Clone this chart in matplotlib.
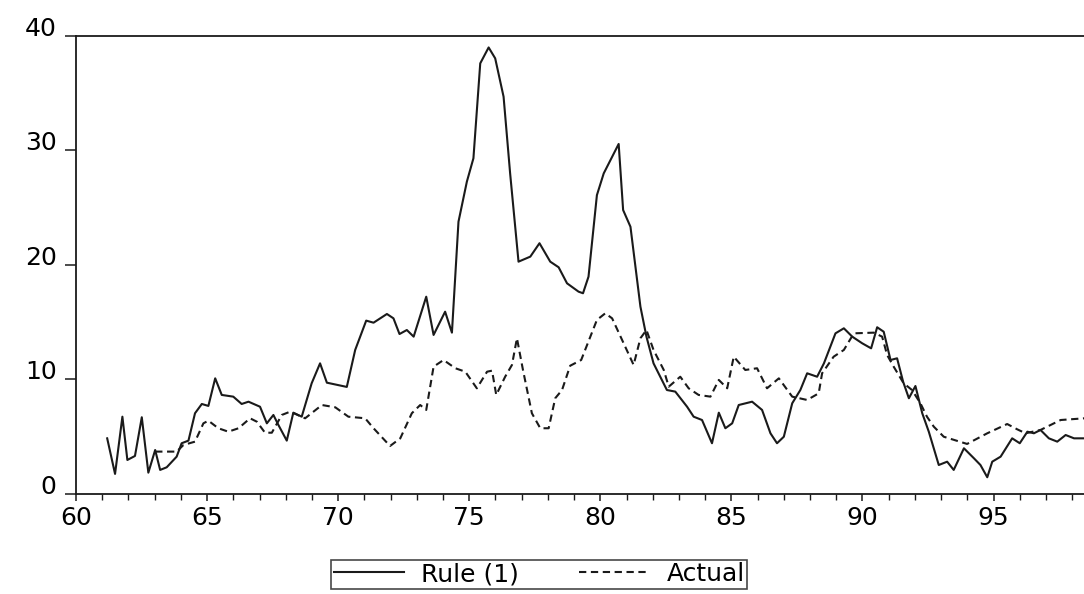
# Rule (1) vs Actual, 1961-1998
# values

import matplotlib.pyplot as plt
import matplotlib.transforms as mtrans

rule_years = [61.19, 61.49, 61.77, 61.96, 62.25, 62.51, 62.76, 63.02, 63.21, 63.46,
              63.84, 64.03, 64.29, 64.54, 64.80, 65.05, 65.31, 65.56, 66.00, 66.32,
              66.58, 67.02, 67.28, 67.53, 67.72, 68.04, 68.29, 68.61, 68.99, 69.31,
              69.57, 70.33, 70.65, 71.07, 71.35, 71.86, 72.11, 72.34, 72.62, 72.88,
              73.36, 73.64, 74.08, 74.34, 74.59, 74.91, 75.16, 75.42, 75.74, 75.99,
              76.31, 76.56, 76.88, 77.33, 77.68, 78.09, 78.41, 78.73, 79.17, 79.34,
              79.55, 79.87, 80.13, 80.70, 80.87, 81.15, 81.53, 81.76, 82.03, 82.54,
              82.86, 83.31, 83.56, 83.88, 84.26, 84.52, 84.77, 85.03, 85.28, 85.79,
              86.17, 86.49, 86.74, 87.00, 87.32, 87.63, 87.89, 88.27, 88.53, 88.97,
              89.29, 89.61, 89.99, 90.33, 90.56, 90.81, 91.07, 91.32, 91.55, 91.77,
              92.02, 92.28, 92.53, 92.91, 93.23, 93.48, 93.87, 94.25, 94.50, 94.76,
              94.95, 95.27, 95.71, 96.00, 96.29, 96.54, 96.79, 97.11, 97.43, 97.75,
              98.07, 98.47]
rule_vals = [4.86, 1.75, 6.75, 2.97, 3.32, 6.70, 1.86, 3.84, 2.10, 2.33,
             3.26, 4.43, 4.66, 7.05, 7.86, 7.69, 10.10, 8.65, 8.50, 7.86,
             8.06, 7.62, 6.17, 6.90, 6.03, 4.66, 7.10, 6.75, 9.67, 11.41,
             9.72, 9.35, 12.58, 15.14, 14.96, 15.72, 15.34, 13.97, 14.32, 13.74,
             17.23, 13.89, 15.92, 14.09, 23.78, 27.28, 29.32, 37.61, 39.00, 38.05,
             34.70, 28.00, 20.29, 20.73, 21.90, 20.29, 19.80, 18.40, 17.67, 17.53,
             18.98, 26.10, 28.00, 30.57, 24.80, 23.34, 16.36, 13.74, 11.41, 9.08,
             8.94, 7.62, 6.75, 6.46, 4.43, 7.10, 5.74, 6.17, 7.77, 8.06,
             7.34, 5.30, 4.43, 5.00, 7.92, 9.08, 10.54, 10.24, 11.41, 14.03,
             14.47, 13.74, 13.16, 12.72, 14.56, 14.17, 11.70, 11.85, 9.81, 8.36,
             9.43, 7.05, 5.44, 2.53, 2.82, 2.10, 3.99, 3.12, 2.53, 1.46,
             2.82, 3.26, 4.86, 4.43, 5.44, 5.30, 5.59, 4.86, 4.57, 5.15,
             4.86, 4.86]

actual_years = [63.02, 63.84, 64.10, 64.54, 64.86, 65.05, 65.43, 65.81, 66.20, 66.64,
                66.90, 67.21, 67.47, 67.85, 68.17, 68.74, 69.38, 69.89, 70.39, 71.03,
                71.35, 71.98, 72.37, 72.81, 73.13, 73.36, 73.64, 74.02, 74.47, 74.85,
                75.29, 75.68, 75.87, 76.03, 76.37, 76.63, 76.82, 77.05, 77.39, 77.71,
                78.03, 78.28, 78.54, 78.85, 79.27, 79.62, 79.87, 80.19, 80.45, 80.89,
                81.27, 81.53, 81.76, 82.03, 82.42, 82.61, 83.05, 83.37, 83.75, 84.20,
                84.52, 84.84, 85.09, 85.53, 85.98, 86.36, 86.81, 87.32, 87.89, 88.33,
                88.46, 88.90, 89.29, 89.67, 90.43, 90.75, 90.94, 91.19, 91.57, 91.89,
                92.21, 92.46, 92.72, 93.10, 93.99, 94.76, 95.52, 95.90, 96.22, 96.79,
                97.56, 98.47]
actual_vals = [3.70, 3.70, 4.28, 4.57, 6.17, 6.40, 5.74, 5.44, 5.74, 6.61,
               6.31, 5.35, 5.35, 6.90, 7.19, 6.61, 7.77, 7.57, 6.75, 6.61,
               5.74, 4.19, 4.86, 7.05, 7.77, 7.34, 11.12, 11.70, 10.98, 10.68,
               9.23, 10.68, 10.77, 8.65, 10.24, 11.27, 13.60, 10.83, 7.05, 5.74,
               5.74, 8.36, 9.08, 11.20, 11.70, 13.74, 15.20, 15.78, 15.34, 13.16,
               11.27, 13.60, 14.32, 12.58, 10.83, 9.37, 10.24, 9.23, 8.65, 8.50,
               9.96, 9.23, 11.99, 10.83, 10.98, 9.23, 10.10, 8.50, 8.21, 8.79,
               10.54, 11.99, 12.58, 14.03, 14.09, 13.74, 12.14, 11.12, 9.67, 9.08,
               7.92, 6.75, 5.88, 5.00, 4.37, 5.30, 6.11, 5.65, 5.30, 5.59,
               6.46, 6.61]

x_ticks = [60, 65, 70, 75, 80, 85, 90, 95]
y_ticks = [0, 10, 20, 30, 40]

ink = '#1a1a1a'

fig = plt.figure(figsize=(10.84, 5.94), dpi=100)
ax = fig.add_axes([0.0701, 0.1684, 0.9299, 0.771])

ax.plot(rule_years, rule_vals, color=ink, lw=1.5, label='Rule (1)')
ax.plot(actual_years, actual_vals, color=ink, lw=1.5,
        linestyle=(0, (3.5, 2.2)), label='Actual')

ax.set_xlim(60, 98.45)
ax.set_ylim(0, 40)
ax.set_xticks(x_ticks)
ax.set_xticks(range(61, 99), minor=True)
ax.set_yticks(y_ticks)

ax.spines['right'].set_visible(False)
for s in ['left', 'top', 'bottom']:
    ax.spines[s].set_color(ink)
    ax.spines[s].set_linewidth(1.3)

ax.tick_params(axis='x', which='major', length=5, width=1.1, color=ink,
               labelsize=18, pad=4)
ax.tick_params(axis='x', which='minor', length=4, width=1.0, color=ink)
ax.tick_params(axis='y', which='major', length=8, width=1.1, color=ink,
               labelsize=18, pad=6)

# the scanned y labels sit a bit above their ticks
shift = mtrans.ScaledTranslation(0, 7 / 72, fig.dpi_scale_trans)
for lab in ax.get_yticklabels():
    lab.set_transform(lab.get_transform() + shift)
for lab in ax.get_xticklabels() + ax.get_yticklabels():
    lab.set_color('black')

leg = fig.legend(loc='upper left', bbox_to_anchor=(0.3054, 0.058), ncol=2,
                 frameon=True, fancybox=False, fontsize=18, handlelength=2.8,
                 handletextpad=0.7, columnspacing=2.4, borderpad=0.1,
                 borderaxespad=0)
leg.get_frame().set_edgecolor(ink)
leg.get_frame().set_linewidth(1.2)

fig.savefig('out.png', dpi=100)
